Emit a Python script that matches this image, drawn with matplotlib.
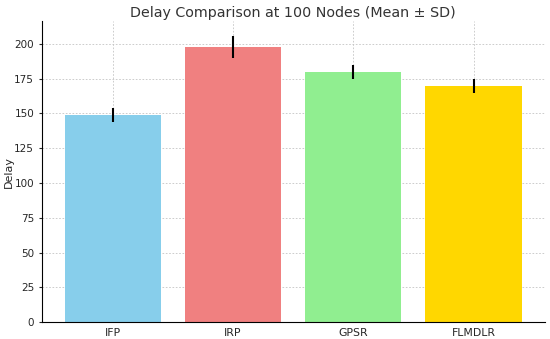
import matplotlib.pyplot as plt

protocols = ["IFP", "IRP", "GPSR", "FLMDLR"]
mean_delay = [149, 198, 180, 170]
sd_delay = [5, 8, 5, 5]
colors = ["skyblue", "lightcoral", "lightgreen", "gold"]

fig, ax = plt.subplots(figsize=(5.5, 3.39), dpi=100)
ax.bar(protocols, mean_delay, yerr=sd_delay, color=colors, width=0.8,
       error_kw=dict(ecolor="black", elinewidth=1.5, capsize=0))
ax.set_title("Delay Comparison at 100 Nodes (Mean ± SD)", fontsize=10.3,
             color="#333333", pad=3)
ax.set_ylabel("Delay", fontsize=8, color="#262626", labelpad=0.5)
ax.tick_params(axis="x", labelsize=7.8, colors="#262626", direction="in", length=3, pad=4)
ax.tick_params(axis="y", labelsize=7.5, colors="#262626", length=2.5, pad=3)
ax.grid(True, linestyle=(0, (2, 2)), linewidth=0.6, color="#c4c4c4")
ax.set_axisbelow(True)
ax.spines["top"].set_visible(False)
ax.spines["right"].set_visible(False)
ax.set_ylim(0, 216.5)

fig.subplots_adjust(left=0.076, right=0.99, top=0.938, bottom=0.05)
fig.savefig("out.png", dpi=100)
